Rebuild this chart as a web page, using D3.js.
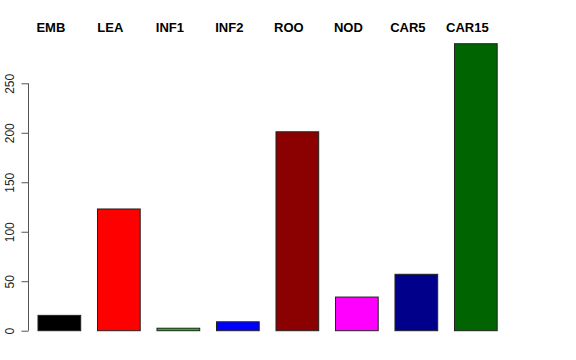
<!DOCTYPE html>
<html><head><meta charset="utf-8">
<script src="https://cdn.jsdelivr.net/npm/d3@7"></script>
<style>body{margin:0;background:#fff}svg{display:block}text{font-family:"Liberation Sans",Arial,sans-serif}</style>
</head><body>
<svg id="c" width="576" height="360"></svg>
<script>
const categories = ["EMB","LEA","INF1","INF2","ROO","NOD","CAR5","CAR15"];
const values = [15.5, 123, 2.5, 9, 201, 34, 57, 290];
const colors = ["#000000","#FF0000","#00CD00","#0000FF","#8B0000","#FF00FF","#00008B","#006400"];
const yTicks = [0, 50, 100, 150, 200, 250];

const svg = d3.select("#c");
const x = d3.scaleBand().domain(categories).range([28, 507.2]).paddingInner(0.282).paddingOuter(0.168);
const y = d3.scaleLinear().domain([0, 250]).range([330.7, 83.3]);

svg.selectAll("rect.bar").data(categories).enter().append("rect")
  .attr("class","bar")
  .attr("x", d => x(d))
  .attr("width", x.bandwidth())
  .attr("y", (d,i) => y(values[i]))
  .attr("height", (d,i) => y(0) - y(values[i]))
  .attr("fill", (d,i) => colors[i])
  .attr("stroke", "#222")
  .attr("stroke-width", 1);

svg.selectAll("text.lab").data(categories).enter().append("text")
  .attr("class","lab")
  .attr("x", d => x(d) + x.bandwidth()/2 - 8.5)
  .attr("y", 32.3)
  .attr("text-anchor","middle")
  .attr("font-size", 13)
  .attr("font-weight","bold")
  .text(d => d);

const yAxis = d3.axisLeft(y).tickValues(yTicks).tickSize(7).tickPadding(7).tickFormat(d3.format("d"));
const g = svg.append("g").attr("transform","translate(28.5,0)").call(yAxis);
g.select(".domain").attr("stroke","#555").attr("d", `M-7,${y(250)}H0V${y(0)}H-7`).attr("d", `M0,${y(250)}V${y(0)}`);
g.selectAll(".tick line").attr("stroke","#555");
g.selectAll(".tick text")
  .attr("font-size", 12)
  .attr("font-family", "Liberation Sans, Arial, sans-serif")
  .attr("fill", "#222")
  .attr("text-anchor","middle")
  .attr("transform", d => `translate(${-15},${0}) rotate(-90)`)
  .attr("x", 0).attr("y", 0).attr("dy", "0");
</script>
</body></html>
